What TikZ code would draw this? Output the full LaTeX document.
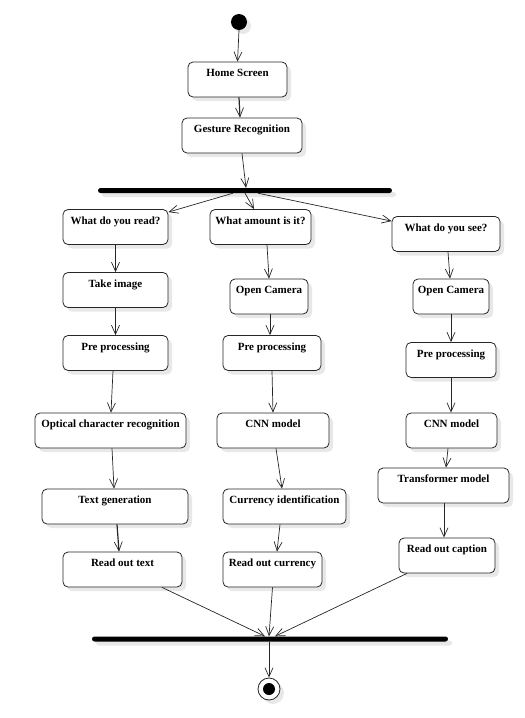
\documentclass[tikz,border=0pt]{standalone}
\usepackage{fontspec}
\setmainfont{Liberation Serif}
\usetikzlibrary{arrows.meta,shadows}
\begin{document}
\begin{tikzpicture}[x=1pt,y=-1pt,
  shade/.style={general shadow={fill=black!9, shadow xshift=4pt, shadow yshift=-4pt}},
  act/.style={draw=black!85, line width=0.8pt, rounded corners=5pt, fill=white, shade,
    minimum height=35pt, inner xsep=2pt, inner ysep=2pt, text height=12.5pt, text depth=18.5pt,
    font=\fontsize{11}{13}\selectfont\bfseries},
  bar/.style={fill=black, rounded corners=2.5pt, minimum height=5pt, inner sep=0pt, shade},
  flow/.style={draw=black!85, line width=0.7pt, -{Straight Barb[length=9pt,width=8pt,line width=0.7pt]}},
  boldflow/.style={flow, line width=1.2pt}]
\useasboundingbox (0,0) rectangle (525,718);

% initial and final states
\node[circle, fill=black, minimum size=16pt, inner sep=0pt, shade] (start) at (239,22) {};
\node[circle, draw=black!85, line width=0.8pt, fill=white, minimum size=22pt, inner sep=0pt, shade] (end) at (269,689) {};
\node[circle, fill=black, minimum size=12pt, inner sep=0pt] (endin) at (269,689) {};

% fork and join bars
\node[bar, minimum width=294pt] (fork) at (245,190.5) {};
\node[bar, minimum width=356pt] (join) at (270,639) {};

% common part
\node[act, minimum width=99pt] (home) at (237.5,79.5) {Home Screen};
\node[act, minimum width=120pt] (gesture) at (242,135.5) {Gesture Recognition};

% reading branch
\node[act, minimum width=105pt] (read) at (115.5,227) {What do you read?};
\node[act, minimum width=105pt] (take) at (115.5,290) {Take image};
\node[act, minimum width=105pt] (preA) at (115.5,353) {Pre processing};
\node[act, minimum width=151pt] (ocr) at (110.5,430.5) {Optical character recognition};
\node[act, minimum width=146pt] (textgen) at (115,506.5) {Text generation};
\node[act, minimum width=119pt] (readtext) at (122.5,569.5) {Read out text};

% currency branch
\node[act, minimum width=101pt] (amount) at (260.5,227) {What amount is it?};
\node[act, minimum width=78pt] (camB) at (269,296.5) {Open Camera};
\node[act, minimum width=98pt] (preB) at (272,353) {Pre processing};
\node[act, minimum width=112pt] (cnnB) at (273,430.5) {CNN model};
\node[act, minimum width=123pt] (currency) at (284.5,506.5) {Currency identification};
\node[act, minimum width=99pt] (readcur) at (272.5,569.5) {Read out currency};

% captioning branch
\node[act, minimum width=108pt] (see) at (446,234) {What do you see?};
\node[act, minimum width=76pt] (camC) at (451,296.5) {Open Camera};
\node[act, minimum width=90pt] (preC) at (451,360) {Pre processing};
\node[act, minimum width=91pt] (cnnC) at (451.5,430.5) {CNN model};
\node[act, minimum width=131pt] (transformer) at (443.5,485.5) {Transformer model};
\node[act, minimum width=96pt] (caption) at (447,555.5) {Read out caption};

% transitions
\draw[flow] (start.south) -- (home.north);
\draw[boldflow] ([xshift=1.5pt]home.south) -- ([xshift=-2pt]gesture.north);
\draw[flow] (gesture.south) -- ([xshift=1pt]fork.north);

\draw[flow] ([xshift=-12pt]fork.south) -- ([yshift=-3pt]read.north east);
\draw[flow] (fork.south) -- ([xshift=-6.5pt]amount.north);
\draw[flow] ([xshift=13pt]fork.south) -- ([yshift=-5pt]see.north west);

\draw[flow] (read.south) -- (take.north);
\draw[flow] (take.south) -- (preA.north);
\draw[flow] ([xshift=-2.5pt]preA.south) -- ([xshift=0.5pt]ocr.north);
\draw[flow] ([xshift=1.5pt]ocr.south) -- ([xshift=-1pt]textgen.north);
\draw[boldflow] ([xshift=2pt]textgen.south) -- ([xshift=-3.5pt]readtext.north);

\draw[flow] ([xshift=6.5pt]amount.south) -- (camB.north);
\draw[flow] ([xshift=1pt]camB.south) -- ([xshift=-2pt]preB.north);
\draw[flow] (preB.south) -- (cnnB.north);
\draw[flow] ([xshift=3pt]cnnB.south) -- ([xshift=-2.5pt]currency.north);
\draw[flow] ([xshift=-4.5pt]currency.south) -- ([xshift=4.5pt]readcur.north);

\draw[flow] ([xshift=2pt]see.south) -- ([xshift=-1pt]camC.north);
\draw[flow] (camC.south) -- (preC.north);
\draw[flow] (preC.south) -- ([xshift=-0.5pt]cnnC.north);
\draw[flow] ([xshift=-3.5pt]cnnC.south) -- ([xshift=2.5pt]transformer.north);
\draw[flow] ([xshift=0.5pt]transformer.south) -- ([xshift=-3pt]caption.north);

\draw[flow] ([xshift=39.5pt]readtext.south) -- ([xshift=-5pt]join.north);
\draw[flow] (readcur.south) -- ([xshift=-1pt]join.north);
\draw[flow] ([xshift=-40pt]caption.south) -- ([xshift=5pt]join.north);
\draw[flow] ([xshift=-1pt]join.south) -- (end.north);
\end{tikzpicture}
\end{document}
